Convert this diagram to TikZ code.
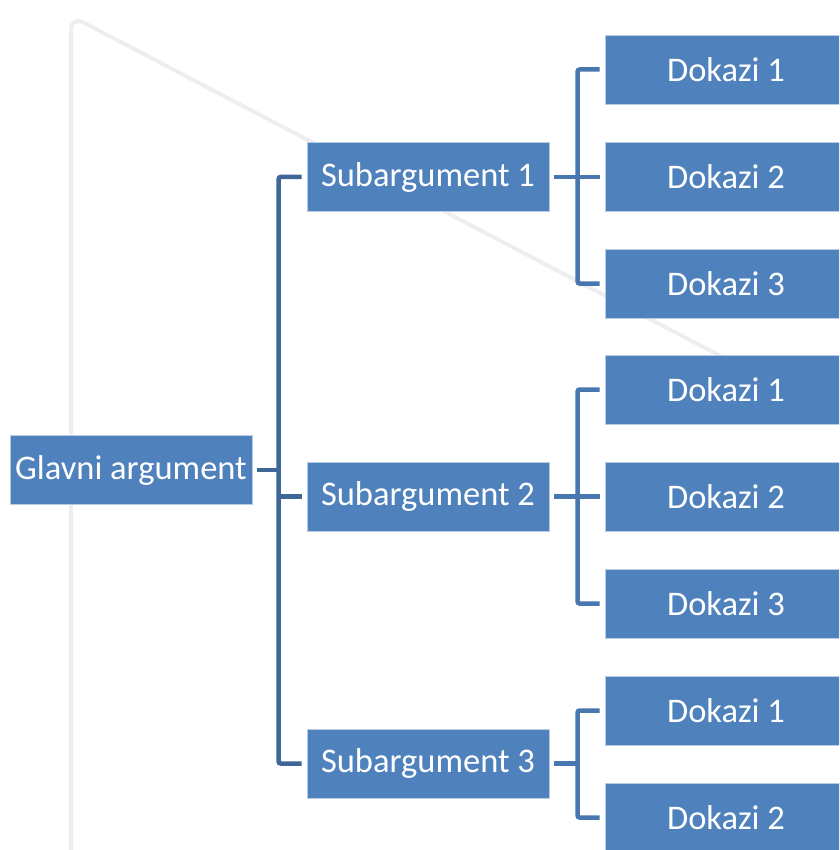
\documentclass[tikz,border=0pt]{standalone}
\usepackage{fontspec}
\setmainfont{Carlito}
\usetikzlibrary{positioning}
\definecolor{boxblue}{HTML}{4F81BD}
\definecolor{boxedge}{HTML}{B8CCE4}
\definecolor{trunkblue}{HTML}{3E6797}
\definecolor{branchblue}{HTML}{4876AE}
\definecolor{bggray}{HTML}{EDEEF2}
\tikzset{
  argbox/.style={fill=boxblue,draw=boxedge,line width=0.8pt,text=white,
    minimum width=242pt,minimum height=69pt,inner sep=0pt,
    font=\fontsize{34.5}{40}\selectfont},
  trunk/.style={draw=trunkblue,line width=4.5pt,rounded corners=2pt},
  branch/.style={draw=branchblue,line width=4.5pt,rounded corners=2pt}
}

\begin{document}
\begin{tikzpicture}[x=1pt,y=-1pt]
\useasboundingbox (0,0) rectangle (839,850);
\clip (0,0) rectangle (839,850);

% Faint background frame
\draw[bggray,line width=4pt,rounded corners=14pt] (71,860) -- (71,16) -- (900,450);

% Main argument
\node[argbox] (glavni) at (131,470) {Glavni argument};

% Subarguments
\node[argbox] (sub1) at (428,177)   {Subargument 1};
\node[argbox] (sub2) at (428,496.5) {Subargument 2};
\node[argbox] (sub3) at (428,763.5) {Subargument 3};

% Evidence for subargument 1
\node[argbox] (dok11) at (726,69.5)  {Dokazi 1};
\node[argbox] (dok12) at (726,177)   {Dokazi 2};
\node[argbox] (dok13) at (726,283.5) {Dokazi 3};

% Evidence for subargument 2
\node[argbox] (dok21) at (726,389.5) {Dokazi 1};
\node[argbox] (dok22) at (726,496.5) {Dokazi 2};
\node[argbox] (dok23) at (726,603.5) {Dokazi 3};

% Evidence for subargument 3
\node[argbox] (dok31) at (726,710.5) {Dokazi 1};
\node[argbox] (dok32) at (726,817.5) {Dokazi 2};

% Main argument to subarguments
\draw[trunk] ([xshift=5pt]glavni.east) -- ++(23,0);
\draw[trunk] ([xshift=-5pt]sub1.west) -- ++(-23,0) |- ([xshift=-5pt]sub3.west);
\draw[trunk] ([xshift=-5pt]sub2.west) -- ++(-23,0);

% Subargument 1 to evidence
\draw[branch] ([xshift=5pt]sub1.east) -- ++(24,0);
\draw[branch] ([xshift=-5pt]dok11.west) -- ++(-22,0) |- ([xshift=-5pt]dok13.west);
\draw[branch] ([xshift=-5pt]dok12.west) -- ++(-22,0);

% Subargument 2 to evidence
\draw[branch] ([xshift=5pt]sub2.east) -- ++(24,0);
\draw[branch] ([xshift=-5pt]dok21.west) -- ++(-22,0) |- ([xshift=-5pt]dok23.west);
\draw[branch] ([xshift=-5pt]dok22.west) -- ++(-22,0);

% Subargument 3 to evidence
\draw[branch] ([xshift=5pt]sub3.east) -- ++(24,0);
\draw[branch] ([xshift=-5pt]dok31.west) -- ++(-22,0) |- ([xshift=-5pt]dok32.west);
\end{tikzpicture}
\end{document}
